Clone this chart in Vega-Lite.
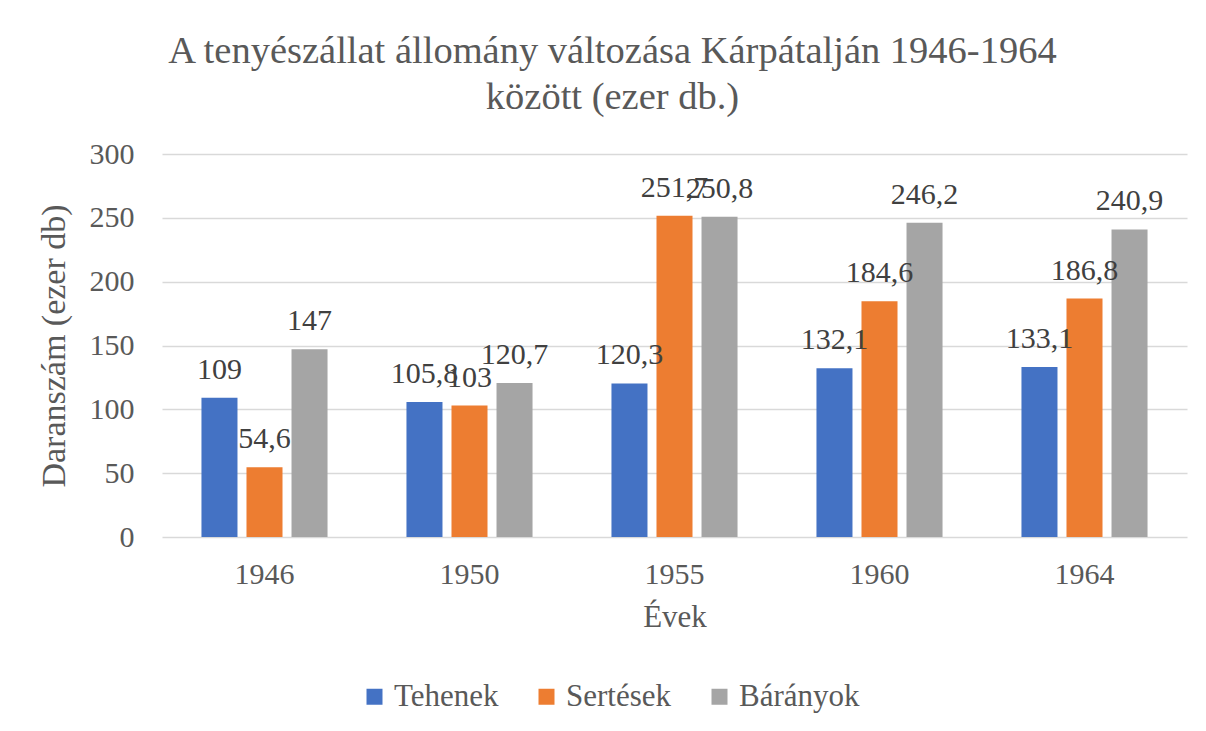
{
  "$schema": "https://vega.github.io/schema/vega-lite/v6.json",
  "autosize": "none",
  "width": 1025,
  "height": 383,
  "padding": {"left": 162, "top": 154, "right": 19, "bottom": 194},
  "background": "white",
  "config": {
    "font": "Liberation Serif",
    "view": {"stroke": null},
    "locale": {"number": {"decimal": ",", "thousands": " ", "grouping": [3], "currency": ["", " Ft"]}}
  },
  "title": {
    "text": ["A tenyészállat állomány változása Kárpátalján 1946-1964", "között (ezer db.)"],
    "font": "Liberation Serif",
    "fontSize": 38.5,
    "fontWeight": "normal",
    "color": "#595959",
    "anchor": "middle",
    "dx": -62,
    "offset": 22,
    "lineHeight": 46
  },
  "data": {
    "values": [
      {"ev": "1946", "faj": "Tehenek", "ertek": 109},
      {"ev": "1946", "faj": "Sertések", "ertek": 54.6},
      {"ev": "1946", "faj": "Bárányok", "ertek": 147},
      {"ev": "1950", "faj": "Tehenek", "ertek": 105.8},
      {"ev": "1950", "faj": "Sertések", "ertek": 103},
      {"ev": "1950", "faj": "Bárányok", "ertek": 120.7},
      {"ev": "1955", "faj": "Tehenek", "ertek": 120.3},
      {"ev": "1955", "faj": "Sertések", "ertek": 251.7},
      {"ev": "1955", "faj": "Bárányok", "ertek": 250.8},
      {"ev": "1960", "faj": "Tehenek", "ertek": 132.1},
      {"ev": "1960", "faj": "Sertések", "ertek": 184.6},
      {"ev": "1960", "faj": "Bárányok", "ertek": 246.2},
      {"ev": "1964", "faj": "Tehenek", "ertek": 133.1},
      {"ev": "1964", "faj": "Sertések", "ertek": 186.8},
      {"ev": "1964", "faj": "Bárányok", "ertek": 240.9}
    ]
  },
  "encoding": {
    "x": {
      "field": "ev", "type": "nominal", "sort": null,
      "scale": {"paddingInner": 0.385, "paddingOuter": 0.1925},
      "axis": {
        "title": "Évek", "titleFontSize": 31, "titleFontWeight": "normal", "titleColor": "#595959", "titlePadding": 13,
        "labelAngle": 0, "labelFontSize": 30, "labelColor": "#595959", "labelPadding": 22,
        "ticks": false, "domain": false
      }
    },
    "xOffset": {
      "field": "faj", "type": "nominal", "sort": ["Tehenek", "Sertések", "Bárányok"],
      "scale": {"paddingInner": 0.2, "paddingOuter": 0}
    },
    "y": {
      "field": "ertek", "type": "quantitative",
      "scale": {"domain": [0, 300], "nice": false},
      "axis": {
        "title": "Daranszám (ezer db)", "titleFontSize": 34, "titleFontWeight": "normal", "titleColor": "#595959", "titlePadding": 18,
        "values": [0, 50, 100, 150, 200, 250, 300],
        "labelFontSize": 30, "labelColor": "#595959", "labelPadding": 28,
        "ticks": false, "domain": false,
        "grid": true, "gridColor": "#D9D9D9", "gridWidth": 1.5
      }
    },
    "color": {
      "field": "faj", "type": "nominal", "sort": ["Tehenek", "Sertések", "Bárányok"],
      "scale": {"domain": ["Tehenek", "Sertések", "Bárányok"], "range": ["#4472C4", "#ED7D31", "#A5A5A5"]},
      "legend": {
        "title": null, "orient": "none", "direction": "horizontal",
        "legendX": 197, "legendY": 527,
        "symbolType": "square", "symbolSize": 256, "symbolStrokeWidth": 0, "symbolOpacity": 1,
        "labelFontSize": 31, "labelColor": "#595959", "labelLimit": 300,
        "columnPadding": 32, "symbolOffset": 0
      }
    }
  },
  "layer": [
    {"mark": {"type": "bar"}},
    {
      "mark": {"type": "text", "baseline": "alphabetic", "dy": -19, "fontSize": 30, "color": "#404040"},
      "encoding": {"text": {"field": "ertek", "type": "quantitative", "format": "~g"}, "color": {"value": "#404040"}}
    }
  ]
}
